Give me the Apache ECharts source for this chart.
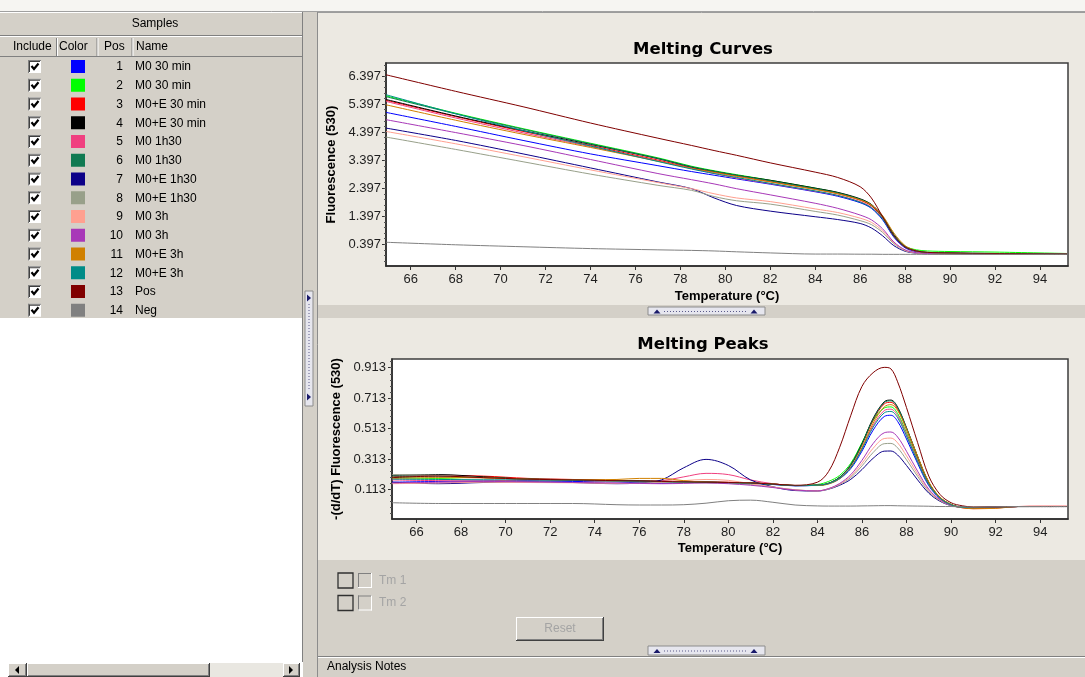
<!DOCTYPE html>
<html>
<head>
<meta charset="utf-8">
<script src="https://cdn.jsdelivr.net/npm/echarts/dist/echarts.min.js"></script>
<style>
html,body{margin:0;padding:0;background:#fff;}
#c{width:1085px;height:677px;}
</style>
</head>
<body>
<div id="c"></div>
<script>
// ---------------- DATA ----------------
const sampleNames = ['M0 30 min','M0 30 min','M0+E 30 min','M0+E 30 min','M0 1h30','M0 1h30','M0+E 1h30','M0+E 1h30','M0 3h','M0 3h','M0+E 3h','M0+E 3h','Pos','Neg'];
const samplePos = [1,2,3,4,5,6,7,8,9,10,11,12,13,14];
const sampleColors = ['#0000ff','#00ff00','#ff0000','#000000','#f04080','#107a52','#0c0088','#98a08a','#ffa090','#a838b8','#d08000','#008c88','#800000','#808080'];

const tempTicks = [66,68,70,72,74,76,78,80,82,84,86,88,90,92,94];
const curveYTicks = [0.397,1.397,2.397,3.397,4.397,5.397,6.397];
const peakYTicks = [0.113,0.313,0.513,0.713,0.913];

// Melting curves (Fluorescence 530)
const curveTemps = [64.9,68,71,74,77,78.5,79.5,80.5,82,84,85,86,86.5,87,87.5,88,88.5,89,90,92,95.2];
const curve01 = [5.10,4.60,4.10,3.62,3.20,2.99,2.86,2.73,2.54,2.27,2.11,1.88,1.68,1.27,0.65,0.27,0.13,0.09,0.07,0.06,0.05];
const curve02 = [5.69,5.07,4.52,4.00,3.48,3.18,3.02,2.88,2.68,2.40,2.24,2.00,1.78,1.35,0.72,0.33,0.20,0.16,0.14,0.12,0.07];
const curve03 = [5.53,4.95,4.42,3.92,3.40,3.12,2.97,2.83,2.63,2.36,2.20,1.97,1.77,1.36,0.72,0.31,0.15,0.10,0.08,0.06,0.05];
const curve04 = [5.56,4.97,4.45,3.96,3.45,3.15,3.00,2.86,2.68,2.40,2.25,2.02,1.82,1.40,0.75,0.32,0.16,0.10,0.08,0.06,0.05];
const curve05 = [5.49,4.90,4.37,3.88,3.37,3.10,2.92,2.76,2.56,2.29,2.14,1.92,1.72,1.32,0.70,0.30,0.15,0.10,0.08,0.06,0.05];
const curve06 = [5.66,5.05,4.50,3.98,3.46,3.16,3.00,2.86,2.66,2.38,2.23,2.00,1.80,1.38,0.73,0.32,0.16,0.10,0.08,0.06,0.05];
const curve07 = [4.54,4.10,3.62,3.12,2.62,2.38,2.05,1.78,1.58,1.38,1.28,1.14,0.98,0.70,0.35,0.15,0.08,0.06,0.05,0.05,0.04];
const curve08 = [4.22,3.78,3.34,2.90,2.50,2.32,2.10,1.95,1.83,1.57,1.44,1.24,1.10,0.82,0.42,0.17,0.09,0.06,0.05,0.05,0.04];
const curve09 = [4.42,3.98,3.52,3.05,2.60,2.38,2.20,2.05,1.92,1.66,1.53,1.33,1.18,0.88,0.45,0.18,0.09,0.06,0.05,0.05,0.04];
const curve10 = [4.84,4.38,3.92,3.42,2.92,2.70,2.55,2.38,2.16,1.86,1.68,1.44,1.27,0.95,0.48,0.20,0.10,0.07,0.06,0.05,0.04];
const curve11 = [5.37,4.82,4.32,3.85,3.36,3.10,2.96,2.82,2.62,2.35,2.20,1.98,1.80,1.42,0.80,0.35,0.17,0.11,0.08,0.06,0.05];
const curve12 = [5.73,5.05,4.45,3.90,3.35,3.08,2.92,2.78,2.57,2.30,2.14,1.90,1.70,1.30,0.68,0.30,0.16,0.11,0.09,0.07,0.05];
const curve13 = [6.44,5.85,5.30,4.72,4.18,3.92,3.74,3.57,3.30,2.97,2.78,2.45,2.05,1.38,0.70,0.30,0.16,0.11,0.09,0.07,0.05];
const curve14 = [0.47,0.38,0.31,0.245,0.20,0.18,0.16,0.13,0.09,0.05,0.05,0.045,0.045,0.04,0.04,0.04,0.04,0.04,0.04,0.04,0.04];

// Melting peaks (-(d/dT) Fluorescence 530)
const peakTemps = [64.9,67,69,71,73,75,76,77,78,79,80,81,82,83,84,84.5,85,85.5,86,86.5,87,87.3,87.6,88,88.5,89,89.5,90,90.5,91,92,93,94,95.2];
const peak01 = [0.160,0.165,0.168,0.170,0.165,0.162,0.155,0.152,0.158,0.160,0.156,0.152,0.145,0.136,0.140,0.150,0.183,0.250,0.364,0.502,0.592,0.600,0.560,0.444,0.283,0.137,0.053,0.011,-0.005,-0.007,-0.004,0,0,0];
const peak02 = [0.190,0.185,0.195,0.178,0.175,0.170,0.166,0.164,0.162,0.160,0.157,0.154,0.147,0.138,0.145,0.165,0.205,0.285,0.420,0.565,0.648,0.655,0.612,0.485,0.308,0.149,0.057,0.012,-0.004,-0.006,-0.003,0,0,0];
const peak03 = [0.195,0.205,0.200,0.185,0.178,0.172,0.170,0.168,0.165,0.162,0.160,0.156,0.148,0.138,0.140,0.153,0.192,0.271,0.405,0.568,0.675,0.685,0.640,0.507,0.322,0.155,0.059,0.012,-0.008,-0.014,-0.010,0,0.002,0.002];
const peak04 = [0.205,0.210,0.195,0.180,0.175,0.170,0.168,0.165,0.162,0.160,0.158,0.155,0.148,0.138,0.140,0.153,0.193,0.275,0.413,0.579,0.689,0.700,0.654,0.518,0.329,0.158,0.060,0.013,-0.005,-0.008,-0.004,0,0,0];
const peak05 = [0.175,0.170,0.168,0.175,0.172,0.165,0.165,0.170,0.195,0.218,0.210,0.175,0.150,0.138,0.140,0.151,0.187,0.260,0.383,0.533,0.631,0.640,0.598,0.474,0.301,0.146,0.056,0.011,-0.005,-0.007,-0.004,0,0,0];
const peak06 = [0.200,0.200,0.190,0.182,0.176,0.170,0.168,0.166,0.163,0.160,0.158,0.155,0.148,0.138,0.140,0.153,0.193,0.273,0.410,0.575,0.684,0.695,0.650,0.515,0.327,0.157,0.060,0.013,-0.005,-0.008,-0.004,0,0,0];
const peak07 = [0.160,0.150,0.158,0.162,0.158,0.150,0.155,0.175,0.255,0.310,0.270,0.175,0.130,0.105,0.102,0.114,0.140,0.179,0.243,0.317,0.364,0.365,0.339,0.270,0.175,0.088,0.035,0.006,-0.005,-0.006,-0.003,0,0,0];
const peak08 = [0.210,0.205,0.190,0.178,0.172,0.165,0.162,0.160,0.158,0.156,0.152,0.145,0.128,0.110,0.103,0.116,0.145,0.191,0.267,0.355,0.413,0.415,0.386,0.307,0.198,0.098,0.039,0.007,-0.005,-0.006,-0.003,0,0,0];
const peak09 = [0.150,0.155,0.160,0.158,0.156,0.152,0.152,0.158,0.170,0.178,0.172,0.150,0.128,0.110,0.103,0.117,0.148,0.200,0.284,0.383,0.447,0.450,0.419,0.333,0.214,0.106,0.042,0.008,-0.005,-0.006,-0.003,0,0,0];
const peak10 = [0.155,0.160,0.165,0.162,0.158,0.155,0.152,0.150,0.152,0.155,0.150,0.140,0.125,0.108,0.103,0.118,0.152,0.210,0.304,0.414,0.485,0.490,0.457,0.363,0.232,0.114,0.045,0.008,-0.005,-0.007,-0.004,0,0,0];
const peak11 = [0.185,0.190,0.188,0.180,0.176,0.178,0.185,0.185,0.170,0.160,0.158,0.155,0.148,0.138,0.138,0.148,0.183,0.258,0.388,0.548,0.655,0.670,0.632,0.510,0.330,0.162,0.062,0.014,-0.008,-0.014,-0.012,0,0,0];
const peak12 = [0.180,0.178,0.176,0.175,0.172,0.168,0.165,0.163,0.161,0.159,0.157,0.153,0.146,0.137,0.140,0.151,0.186,0.256,0.376,0.521,0.616,0.625,0.584,0.463,0.294,0.143,0.055,0.011,-0.005,-0.007,-0.004,0,0,0];
const peak13 = [0.190,0.200,0.190,0.180,0.175,0.170,0.168,0.165,0.162,0.160,0.158,0.155,0.148,0.140,0.160,0.230,0.390,0.600,0.790,0.880,0.915,0.905,0.820,0.650,0.420,0.200,0.080,0.025,0.005,-0.003,-0.003,0,0,0];
const peak14 = [0.025,0.020,0.020,0.020,0.020,0.012,0.010,0.010,0.012,0.022,0.038,0.042,0.028,0.010,0.004,0.003,0.003,0.003,0.004,0.005,0.006,0.006,0.005,0.004,0.003,0.002,0,0,-0.002,-0.004,-0.002,0,0,0];

const curveData = [curve01,curve02,curve03,curve04,curve05,curve06,curve07,curve08,curve09,curve10,curve11,curve12,curve13,curve14];
const peakData = [peak01,peak02,peak03,peak04,peak05,peak06,peak07,peak08,peak09,peak10,peak11,peak12,peak13,peak14];

// ---------------- UI chrome ----------------
const UI = '"Liberation Sans", Arial, sans-serif';
const GRAY = '#d4d0c8', BEIGE = '#ece9e2';
const G = [];
function R(x,y,w,h,fill,stroke,lw,z){G.push({type:'rect',silent:true,z:(z==null?-5:z),shape:{x:x,y:y,width:w,height:h},style:{fill:fill||'none',stroke:stroke||null,lineWidth:lw||1}});}
function L(x1,y1,x2,y2,c,lw,dash){G.push({type:'line',silent:true,z:-4,shape:{x1:x1,y1:y1,x2:x2,y2:y2},style:{stroke:c,lineWidth:lw||1,lineDash:dash||null}});}
function P(pts,fill){G.push({type:'polygon',silent:true,z:-3,shape:{points:pts},style:{fill:fill}});}
function T(x,y,s,o){G.push({type:'text',silent:true,z:-2,x:x,y:y,style:Object.assign({text:s,fill:'#000',font:'12px '+UI,textAlign:'left',textVerticalAlign:'middle'},o||{})});}
function raised(x,y,w,h){R(x,y,w,h,GRAY);L(x,y+0.5,x+w,y+0.5,'#fff');L(x+0.5,y,x+0.5,y+h,'#fff');L(x,y+h-0.5,x+w,y+h-0.5,'#404040');L(x+w-0.5,y,x+w-0.5,y+h,'#404040');L(x+1,y+h-1.5,x+w-1,y+h-1.5,'#808080');L(x+w-1.5,y+1,x+w-1.5,y+h-1,'#808080');}

// top strip
R(0,0,1085,12,'#f6f5f2');
L(0,11.5,1085,11.5,'#a0a0a0');
// left panel
R(0,12,302,306,GRAY);
R(0,318,302,344,'#ffffff');
R(0,12,302,24,GRAY); L(0,12.5,302,12.5,'#fff'); L(0,35.5,302,35.5,'#808080');
T(155,24,'Samples',{textAlign:'center'});
L(0,36.5,302,36.5,'#fff'); L(0,56.5,302,56.5,'#808080');
[56.5,97,132].forEach(function(x){L(x,38,x,56,'#808080');L(x+1,38,x+1,56,'#fff');});
T(13,47,'Include'); T(59,47,'Color'); T(104,47,'Pos'); T(136,47,'Name');
sampleNames.forEach(function(nm,i){
  var cy = 66.5 + i*18.75;
  R(28,cy-6.5,13,13,'#fff',null,0,-4);
  L(28,cy-6,41,cy-6,'#808080'); L(28.5,cy-6.5,28.5,cy+6.5,'#808080');
  L(29,cy-5,40,cy-5,'#404040'); L(29.5,cy-5.5,29.5,cy+5.5,'#404040');
  G.push({type:'polyline',silent:true,z:-2,shape:{points:[[31.5,cy-0.5],[34,cy+2.5],[38.5,cy-3]]},style:{stroke:'#000',lineWidth:2.2,fill:null}});
  R(71,cy-6.5,14,13,sampleColors[i],null,0,-3);
  T(123,cy+0.5,String(samplePos[i]),{textAlign:'right'});
  T(135,cy+0.5,nm);
});
L(302.5,12,302.5,662,'#808080');
// left bottom scrollbar
R(0,662,302,15,'#fff');
R(8,663,275,14,'#e9e7e1');
raised(27,663,183,14);
raised(8,663,19,14); P([[19,666],[19,674],[15,670]],'#000');
raised(283,663,17,14); P([[289,666],[289,674],[293,670]],'#000');
// vertical splitter
R(303,12,15,665,GRAY);
L(317.5,12,317.5,677,'#8c8c8c');
R(305,291,8,115,'#e6e6ee','#8c8c8c');
P([[307,294.5],[307,301.5],[311,298]],'#1a1a6a');
P([[307,393.5],[307,400.5],[311,397]],'#1a1a6a');
L(309,304,309,391,'#5a5a8a',1,[1,2]);
// right panels
R(318,12,767,293,BEIGE);
L(318,12.5,1085,12.5,'#9c9c9c');
R(318,305,767,13,GRAY);
function hHandle(y,h){R(648,y,117,h,'#e6e6ee','#8c8c8c');var m=y+h/2;P([[653.5,m+2.5],[660.5,m+2.5],[657,m-1.5]],'#1a1a6a');P([[750.5,m+2.5],[757.5,m+2.5],[754,m-1.5]],'#1a1a6a');L(664,m+0.5,746,m+0.5,'#5a5a8a',1,[1,2]);}
hHandle(307,8);
R(318,318,767,242,BEIGE);
R(318,560,767,96,GRAY);
// Tm checkboxes
[[580.5,'Tm 1'],[603,'Tm 2']].forEach(function(a){
  var cy=a[0];
  R(338,cy-7.5,15,15,null,'#303030',1.3,-3);
  R(358,cy-7.5,14,15,GRAY);
  L(358.5,cy-7.5,358.5,cy+7.5,'#808080'); L(358,cy-7,372,cy-7,'#808080');
  L(371.5,cy-7.5,371.5,cy+7.5,'#fff'); L(358,cy+7,372,cy+7,'#fff');
  T(379,cy,a[1],{fill:'#a4a4a4'});
});
raised(516,617,88,24);
T(560,629,'Reset',{textAlign:'center',fill:'#a4a4a4'});
hHandle(646,9);
R(318,656,767,21,GRAY);
L(318,656.5,1085,656.5,'#808080'); L(318,657.5,1085,657.5,'#fff');
T(327,667,'Analysis Notes');

// ---------------- CHART ----------------
function minorVals(ticks, step, lo, hi){var out=[];var base=ticks[0];for(var k=-40;k<200;k++){var v=+(base+k*step).toFixed(4);if(v>lo&&v<hi)out.push(v);}return out;}
const curveMin=-0.376, curveMax=6.86, peakMin=-0.082, peakMax=0.97, tMin=64.9, tMax=95.25;

const tickFont = {color:'#1e1e1e',fontSize:13,fontFamily:UI};
const nameFont = {color:'#000',fontSize:13,fontWeight:'bold',fontFamily:UI};
const axLine = {show:true,onZero:false,lineStyle:{color:'#2a2a2a',width:1.5}};

function xAx(gi,gap){return {gridIndex:gi,type:'value',min:tMin,max:tMax,axisLine:axLine,
  axisTick:{show:true,customValues:tempTicks,length:4,lineStyle:{color:'#333'}},
  axisLabel:Object.assign({customValues:tempTicks,margin:7},tickFont),
  splitLine:{show:false},name:'Temperature (°C)',nameLocation:'middle',nameGap:gap,nameTextStyle:nameFont};}
function yAx(gi,mn,mx,ticks,name,gap,margin){return {gridIndex:gi,type:'value',position:'left',min:mn,max:mx,axisLine:axLine,
  axisTick:{show:true,customValues:ticks,length:4,lineStyle:{color:'#333'}},
  axisLabel:Object.assign({customValues:ticks,margin:margin,formatter:function(v){return v.toFixed(3);}},tickFont),
  splitLine:{show:false},name:name,nameLocation:'middle',nameGap:gap,nameTextStyle:nameFont};}
function yMinor(gi,mn,mx,vals){return {gridIndex:gi,type:'value',position:'left',offset:0,min:mn,max:mx,axisLine:{show:false,onZero:false},
  axisTick:{show:true,customValues:vals,length:2,lineStyle:{color:'#555'}},axisLabel:{show:false},splitLine:{show:false}};}

const series=[];
curveData.forEach(function(vals,i){
  series.push({type:'line',name:sampleNames[i],xAxisIndex:0,yAxisIndex:0,data:curveTemps.map(function(t,j){return [t,vals[j]];}),
    showSymbol:false,symbol:'none',smooth:0.3,silent:true,lineStyle:{width:1,color:sampleColors[i]},itemStyle:{color:sampleColors[i]}});
});
peakData.forEach(function(vals,i){
  series.push({type:'line',name:sampleNames[i],xAxisIndex:1,yAxisIndex:2,data:peakTemps.map(function(t,j){return [t,vals[j]];}),
    showSymbol:false,symbol:'none',smooth:0.35,silent:true,lineStyle:{width:1,color:sampleColors[i]},itemStyle:{color:sampleColors[i]}});
});

const chart = echarts.init(document.getElementById('c'),null,{renderer:'canvas'});
chart.setOption({
  animation:false,
  backgroundColor:'#ffffff',
  title:[
    {text:'Melting Curves',left:698,top:36,textAlign:'center',textStyle:{fontFamily:'"DejaVu Sans", sans-serif',fontWeight:'bold',fontSize:16.5,color:'#000'}},
    {text:'Melting Peaks',left:698,top:331,textAlign:'center',textStyle:{fontFamily:'"DejaVu Sans", sans-serif',fontWeight:'bold',fontSize:16.5,color:'#000'}}
  ],
  grid:[
    {left:386,top:63,width:682,height:203,show:true,backgroundColor:'#ffffff',borderColor:'#3c3c3c',borderWidth:1.5},
    {left:392,top:359,width:676,height:160,show:true,backgroundColor:'#ffffff',borderColor:'#3c3c3c',borderWidth:1.5}
  ],
  xAxis:[xAx(0,23.5),xAx(1,22.5)],
  yAxis:[
    yAx(0,curveMin,curveMax,curveYTicks,'Fluorescence (530)',39,5),
    yMinor(0,curveMin,curveMax,minorVals(curveYTicks,0.2,curveMin,curveMax)),
    yAx(1,peakMin,peakMax,peakYTicks,'-(d/dT) Fluorescence (530)',46,6),
    yMinor(1,peakMin,peakMax,minorVals(peakYTicks,0.04,peakMin,peakMax))
  ],
  graphic:{elements:G},
  series:series
});
</script>
</body>
</html>
